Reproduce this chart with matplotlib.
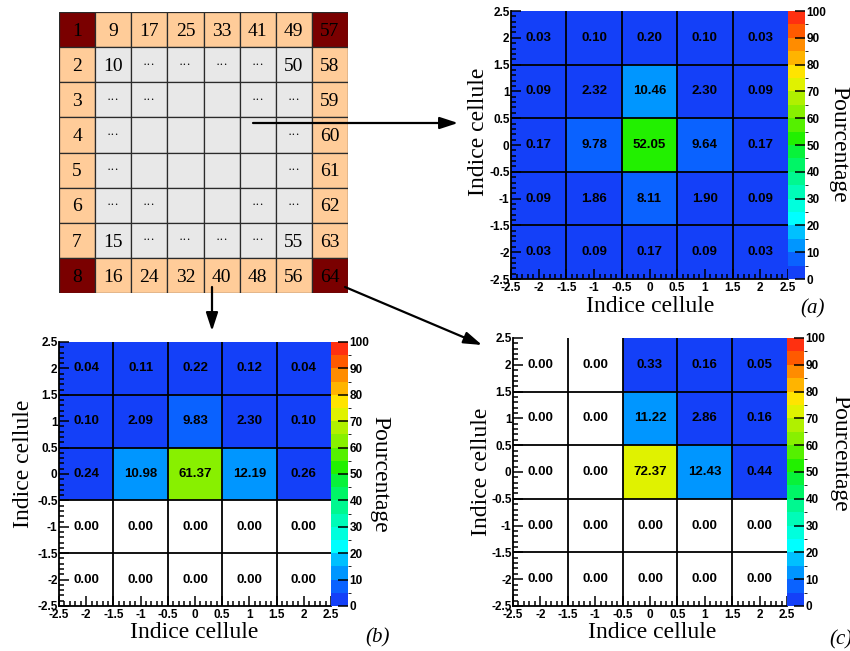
import numpy as np
import matplotlib
matplotlib.use('Agg')
import matplotlib.pyplot as plt
from matplotlib.colors import ListedColormap, BoundaryNorm
from matplotlib.ticker import MultipleLocator, FuncFormatter
from matplotlib.patches import Rectangle

W, H = 850, 651

# ---------------- data ----------------
x_centers = [-2, -1, 0, 1, 2]
y_centers = [2, 1, 0, -1, -2]   # rows listed from top to bottom

pct_a = [[0.03, 0.10, 0.20, 0.10, 0.03],
         [0.09, 2.32, 10.46, 2.30, 0.09],
         [0.17, 9.78, 52.05, 9.64, 0.17],
         [0.09, 1.86, 8.11, 1.90, 0.09],
         [0.03, 0.09, 0.17, 0.09, 0.03]]

pct_b = [[0.04, 0.11, 0.22, 0.12, 0.04],
         [0.10, 2.09, 9.83, 2.30, 0.10],
         [0.24, 10.98, 61.37, 12.19, 0.26],
         [0.00, 0.00, 0.00, 0.00, 0.00],
         [0.00, 0.00, 0.00, 0.00, 0.00]]

pct_c = [[0.00, 0.00, 0.33, 0.16, 0.05],
         [0.00, 0.00, 11.22, 2.86, 0.16],
         [0.00, 0.00, 72.37, 12.43, 0.44],
         [0.00, 0.00, 0.00, 0.00, 0.00],
         [0.00, 0.00, 0.00, 0.00, 0.00]]

cbar_ticks = [0, 10, 20, 30, 40, 50, 60, 70, 80, 90, 100]
cbar_levels = list(range(0, 105, 5))
palette = ['#1440f8', '#0a62ff', '#0096ff', '#00c0ff', '#00ffff',
           '#00ffdd', '#00fcb8', '#00f890', '#00f566', '#08f23a',
           '#22f000', '#55f000', '#88f000', '#b0f000', '#e0f200',
           '#ffe400', '#ffb400', '#ff8c00', '#ff5a00', '#ff3010']

grid_labels = [
    ["1", "9", "17", "25", "33", "41", "49", "57"],
    ["2", "10", "···", "···", "···", "···", "50", "58"],
    ["3", "···", "···", "", "", "···", "···", "59"],
    ["4", "···", "", "", "", "", "···", "60"],
    ["5", "···", "", "", "", "", "···", "61"],
    ["6", "···", "···", "", "", "···", "···", "62"],
    ["7", "15", "···", "···", "···", "···", "55", "63"],
    ["8", "16", "24", "32", "40", "48", "56", "64"],
]

SERIF = 'Liberation Serif'
SANS = 'Liberation Sans'

fig = plt.figure(figsize=(W / 100, H / 100), dpi=100)
fig.patch.set_facecolor('white')

cmap = ListedColormap(palette)
norm = BoundaryNorm(cbar_levels, cmap.N)


def rect_px(x0, y0, x1, y1):
    return [x0 / W, 1 - y1 / H, (x1 - x0) / W, (y1 - y0) / H]


def fpos(x, y):
    return x / W, 1 - y / H


def heat(axrect, cbrect, data, xl, yl, pl, tag):
    ax = fig.add_axes(rect_px(*axrect))
    arr = np.array(data)[::-1]
    yc = np.array(y_centers)[::-1]
    xc = np.array(x_centers)
    xe = np.append(xc - 0.5, xc[-1] + 0.5)
    ye = np.append(yc - 0.5, yc[-1] + 0.5)
    m = np.ma.masked_equal(arr, 0)
    mesh = ax.pcolormesh(xe, ye, m, cmap=cmap, norm=norm)
    for v in xe[1:-1]:
        ax.axvline(v, color='k', lw=1.3, zorder=3)
    for v in ye[1:-1]:
        ax.axhline(v, color='k', lw=1.3, zorder=3)
    for i, yv in enumerate(yc):
        for j, xv in enumerate(xc):
            ax.text(xv, yv, f'{arr[i, j]:.2f}', ha='center', va='center',
                    fontsize=9.5, fontweight='bold', family=SANS, zorder=5)
    ax.set_xlim(xe[0], xe[-1])
    ax.set_ylim(ye[0], ye[-1])
    for s in ['top', 'right']:
        ax.spines[s].set_visible(False)
    for s in ['left', 'bottom']:
        ax.spines[s].set_linewidth(1.3)
        ax.spines[s].set_zorder(6)
    fmt = FuncFormatter(lambda v, p: f'{v:g}')
    for axis in (ax.xaxis, ax.yaxis):
        axis.set_major_locator(MultipleLocator(0.5))
        axis.set_minor_locator(MultipleLocator(0.1))
        axis.set_major_formatter(fmt)
    ax.tick_params(which='both', direction='in', top=False, right=False,
                   labelsize=8.5, width=1.1, zorder=6)
    ax.tick_params(which='major', length=7)
    ax.tick_params(which='minor', length=3.5)
    ax.tick_params(axis='x', pad=2)
    ax.tick_params(axis='y', pad=1)
    for lab in ax.get_xticklabels() + ax.get_yticklabels():
        lab.set_fontweight('bold')
        lab.set_family(SANS)

    cax = fig.add_axes(rect_px(*cbrect))
    cb = fig.colorbar(mesh, cax=cax, ticks=cbar_ticks)
    cb.outline.set_visible(False)
    cax.tick_params(direction='in', length=7, width=1.1, labelsize=8.5, pad=1)
    for lab in cax.get_yticklabels():
        lab.set_fontweight('bold')
        lab.set_family(SANS)

    fig.text(*fpos(*xl), 'Indice cellule', ha='center', va='center',
             family=SERIF, fontsize=17)
    fig.text(*fpos(*yl), 'Indice cellule', ha='center', va='center',
             rotation=90, family=SERIF, fontsize=17)
    fig.text(*fpos(*pl), 'Pourcentage', ha='center', va='center',
             rotation=270, family=SERIF, fontsize=17)
    fig.text(*fpos(*tag[:2]), tag[2], ha='center', va='center',
             family=SERIF, style='italic', fontsize=15)
    return ax


heat((511, 11, 788, 279), (788, 11, 805, 279), pct_a,
     (650, 306), (479, 132), (839, 144), (813, 309, '(a)'))
heat((59, 342, 331, 606), (331, 342, 348, 606), pct_b,
     (194, 632), (24, 464), (380, 474), (378, 638, '(b)'))
heat((513, 338, 787, 606), (787, 338, 804, 606), pct_c,
     (652, 632), (482, 472), (840, 453), (841, 640, '(c)'))

# ---------------- schematic of the 8x8 matrix ----------------
axs = fig.add_axes(rect_px(59, 12, 348, 293))
n = len(grid_labels)
for i, row in enumerate(grid_labels):
    for j, lab in enumerate(row):
        corner = (i in (0, n - 1)) and (j in (0, n - 1))
        border = i in (0, n - 1) or j in (0, n - 1)
        fc = '#7a0000' if corner else ('#ffcc99' if border else '#e8e8e8')
        axs.add_patch(Rectangle((j, i), 1, 1, facecolor=fc,
                                edgecolor='#2a2a2a', lw=0.9))
        if lab:
            if lab == '···':
                axs.text(j + 0.5, i + 0.5, lab, ha='center', va='center',
                         family=SERIF, fontsize=9)
            else:
                axs.text(j + 0.5, i + 0.55, lab, ha='center', va='center',
                         family=SERIF, fontsize=14)
axs.set_xlim(0, n)
axs.set_ylim(n, 0)
axs.axis('off')

# ---------------- arrows ----------------
ov = fig.add_axes([0, 0, 1, 1], zorder=20)
ov.set_xlim(0, W)
ov.set_ylim(H, 0)
ov.axis('off')
ov.patch.set_alpha(0)
aprops = dict(arrowstyle='-|>,head_length=0.55,head_width=0.18', color='k',
              lw=1.6, mutation_scale=20, shrinkA=0, shrinkB=0)
ov.annotate('', xy=(458, 123), xytext=(253, 123), arrowprops=aprops)
ov.annotate('', xy=(212, 331), xytext=(212, 287), arrowprops=aprops)
ov.annotate('', xy=(482, 345), xytext=(345, 287), arrowprops=aprops)

fig.savefig('out.png', dpi=100)
